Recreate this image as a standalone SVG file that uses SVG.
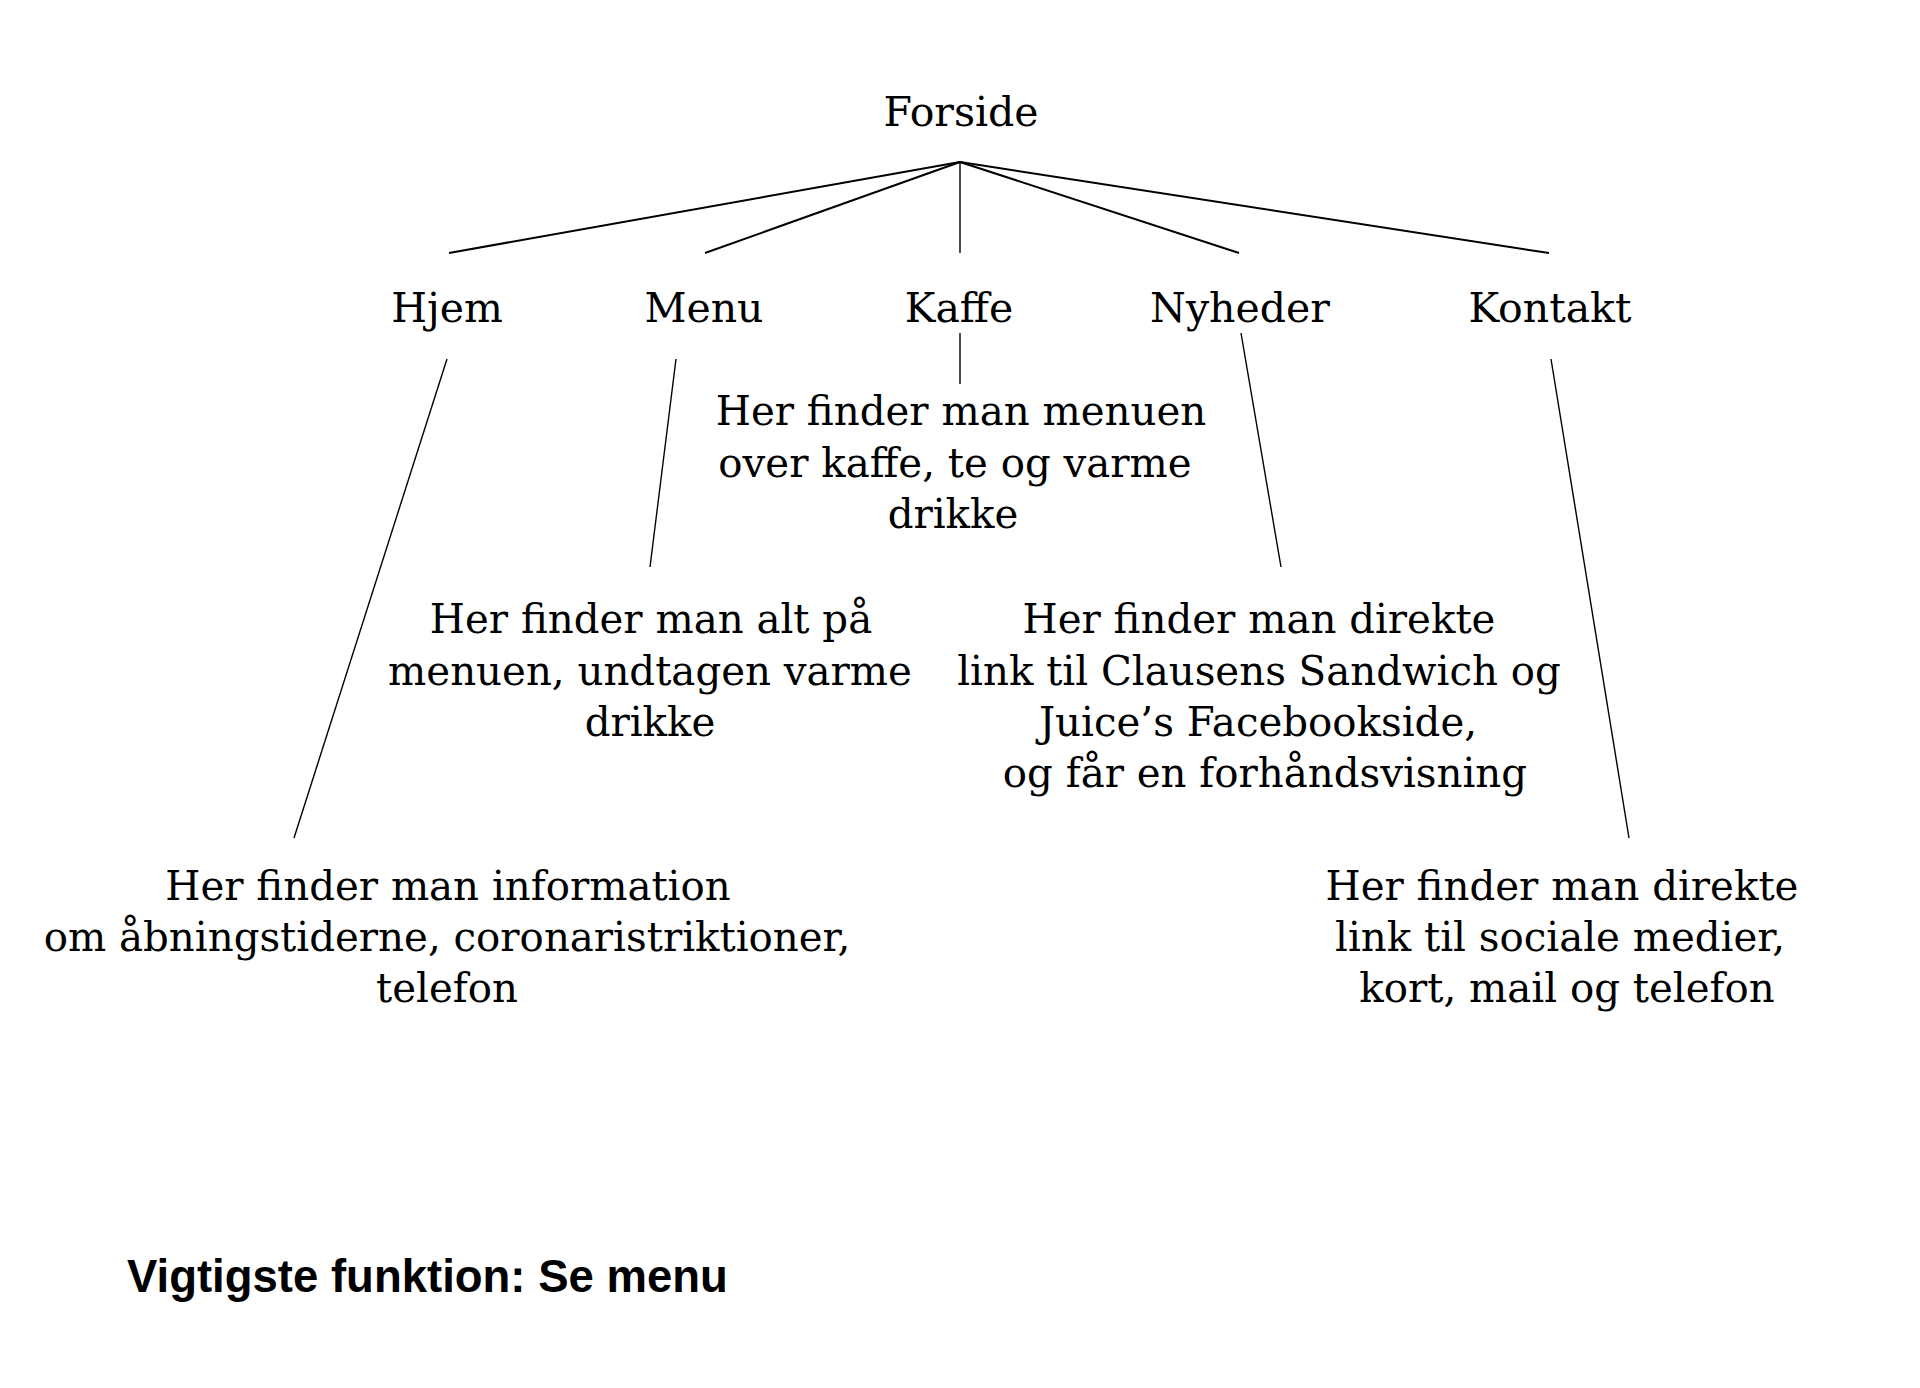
<svg xmlns="http://www.w3.org/2000/svg" width="1920" height="1388" viewBox="0 0 1920 1388">
<style>
.t{font-family:"DejaVu Serif","Liberation Serif",serif;font-size:41px;fill:#000;text-anchor:middle}
.d{font-size:40.3px}
.b{font-family:"Liberation Sans",Arial,sans-serif;font-size:45.5px;font-weight:bold;fill:#000}
.c1{stroke:#000;stroke-width:2;fill:none}
.c2{stroke:#000;stroke-width:1.4;fill:none}
</style>
<rect width="1920" height="1388" fill="#fff"/>
<g id="connectors">
<line class="c1" x1="960" y1="162" x2="449" y2="253"/>
<line class="c1" x1="960" y1="162" x2="705" y2="253"/>
<line class="c2" x1="960" y1="162" x2="960" y2="253"/>
<line class="c1" x1="960" y1="162" x2="1239" y2="253"/>
<line class="c1" x1="960" y1="162" x2="1549" y2="253"/>
<line class="c2" x1="447" y1="359" x2="294" y2="838"/>
<line class="c2" x1="676" y1="359" x2="650" y2="567"/>
<line class="c2" x1="960" y1="333" x2="960" y2="384"/>
<line class="c2" x1="1241" y1="333" x2="1281" y2="567"/>
<line class="c2" x1="1551" y1="359" x2="1629" y2="838"/>
</g>
<g id="forside"><text class="t" x="961" y="126">Forside</text></g>
<g id="hjem"><text class="t" x="447" y="322">Hjem</text></g>
<g id="menu"><text class="t" x="704" y="322">Menu</text></g>
<g id="kaffe"><text class="t" x="959" y="322">Kaffe</text></g>
<g id="nyheder"><text class="t" x="1240" y="322">Nyheder</text></g>
<g id="kontakt"><text class="t" x="1550" y="322">Kontakt</text></g>
<g id="kaffe-desc">
<text class="t d" x="961" y="425">Her finder man menuen</text>
<text class="t d" x="955" y="477">over kaffe, te og varme</text>
<text class="t d" x="953" y="528">drikke</text>
</g>
<g id="menu-desc">
<text class="t d" x="651" y="633">Her finder man alt på</text>
<text class="t d" x="650" y="685">menuen, undtagen varme</text>
<text class="t d" x="650" y="736">drikke</text>
</g>
<g id="nyheder-desc">
<text class="t d" x="1259" y="633">Her finder man direkte</text>
<text class="t d" x="1259" y="685">link til Clausens Sandwich og</text>
<text class="t d" x="1258" y="736">Juice’s Facebookside,</text>
<text class="t d" x="1265" y="787">og får en forhåndsvisning</text>
</g>
<g id="hjem-desc">
<text class="t d" x="448" y="900">Her finder man information</text>
<text class="t d" x="447" y="951">om åbningstiderne, coronaristriktioner,</text>
<text class="t d" x="447" y="1002">telefon</text>
</g>
<g id="kontakt-desc">
<text class="t d" x="1562" y="900">Her finder man direkte</text>
<text class="t d" x="1560" y="951">link til sociale medier,</text>
<text class="t d" x="1567" y="1002">kort, mail og telefon</text>
</g>
<g id="footer"><text class="b" x="127" y="1292">Vigtigste funktion: Se menu</text></g>
</svg>
